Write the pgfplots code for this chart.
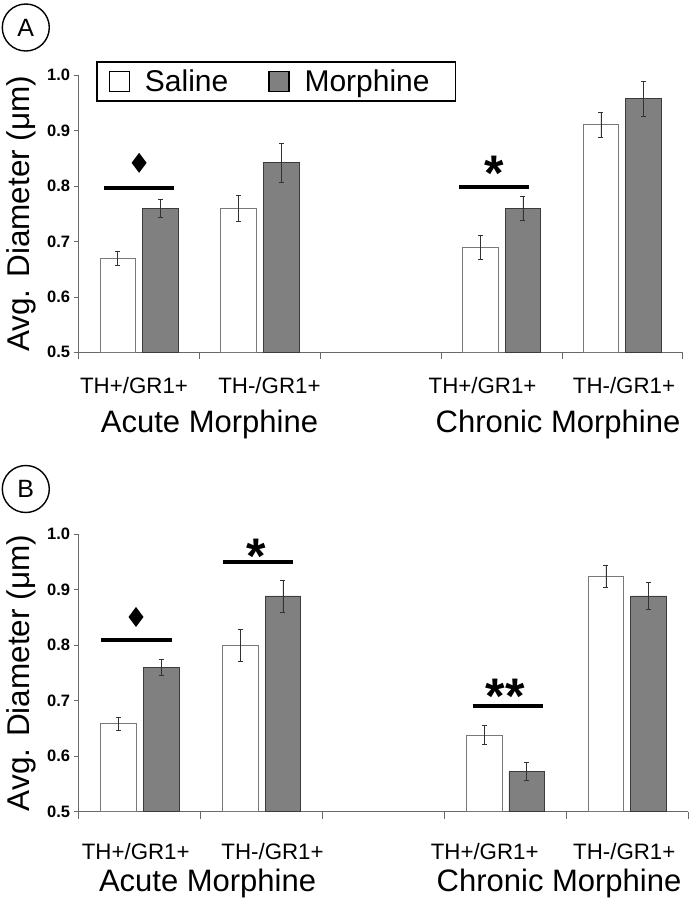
\documentclass[border=0pt]{standalone}
\usepackage{fontspec}
\setmainfont{Liberation Sans}
\usepackage{pgfplots}
\pgfplotsset{compat=1.18}
\definecolor{morph}{RGB}{128,128,128}
\definecolor{morphedge}{RGB}{60,60,60}
\definecolor{saledge}{RGB}{120,120,120}
\definecolor{axisgray}{RGB}{105,105,105}
\definecolor{errgray}{RGB}{50,50,50}
\pgfplotsset{
  panel/.style={
    scale only axis,
    xmin=-0.5, xmax=4.5, ymin=0.5, ymax=1.0,
    enlargelimits=false,
    axis x line*=bottom, axis y line*=left,
    axis line style={axisgray, line width=0.8pt},
    ybar=7pt, bar width=35.7pt,
    clip mode=individual,
    ytick={0.5,0.6,0.7,0.8,0.9,1.0},
    yticklabel={\pgfmathprintnumber[fixed,fixed zerofill,precision=1,assume math mode=true]{\tick}},
    yticklabel style={font=\bfseries\fontsize{16.5}{17}\selectfont},
    tick align=outside, major tick length=5pt, minor tick length=7pt,
    tick style={axisgray, line width=0.8pt},
    major x tick style={draw=none},
    minor xtick={-0.5,0.5,1.5,2.5,3.5,4.5},
    xticklabel style={font=\fontsize{22.3}{24}\selectfont, anchor=base},
    xticklabels={TH+/GR1+,TH-/GR1+,TH+/GR1+,TH-/GR1+},
    ylabel={Avg. Diameter (μm)},
    ylabel style={font=\fontsize{31.5}{34}\selectfont, anchor=base},
    error bars/y dir=both, error bars/y explicit,
    error bars/error bar style={errgray, line width=0.6pt},
    error bars/error mark options={rotate=90, mark size=2.5pt, errgray, line width=0.6pt},
  },
  sal/.style={fill=white, draw=saledge, line width=0.7pt},
  mor/.style={fill=morph, draw=morphedge, line width=0.7pt},
}
\newcommand{\sig}[2]{\draw[line width=4.3pt] (axis cs:#1-0.29,#2) -- (axis cs:#1+0.29,#2);}
\newcommand{\stars}[3]{\node[anchor=base, inner sep=0pt, yshift=-28pt, font=\bfseries\fontsize{50}{52}\selectfont] at (axis cs:#1,#2) {#3};}
\newcommand{\dia}[2]{\fill[shift={(axis cs:#1,#2)}] (0pt,10pt) -- (7.5pt,0pt) -- (0pt,-10pt) -- (-7.5pt,0pt) -- cycle;}
\begin{document}
\begin{tikzpicture}
\useasboundingbox (0,0) rectangle (690pt,-900pt);
% Panel labels
\node[draw, circle, line width=1.4pt, minimum size=47pt, inner sep=0pt, font=\fontsize{25}{28}\selectfont] at (25.8pt,-27.5pt) {A};
\node[draw, circle, line width=1.4pt, minimum size=47pt, inner sep=0pt, font=\fontsize{25}{28}\selectfont] at (25.8pt,-489pt) {B};
% ---------------- Panel A ----------------
\begin{axis}[panel, width=604pt, height=277pt, at={(78.7pt,-352.3pt)}, anchor=south west,
  xtick={-0.042,1.079,2.843,4.014},
  xticklabel style={yshift=-36pt},
  ylabel style={at={(axis description cs:-0.0815,0.5)}},
  legend style={at={(axis description cs:0.0286,1.0516)}, anchor=north west, draw=black, line width=1.6pt,
    font=\fontsize{30}{34}\selectfont, legend columns=2,
    /tikz/every odd column/.append style={column sep=13pt},
    /tikz/every even column/.append style={column sep=38pt},
    inner xsep=12pt, inner ysep=6pt},
  legend cell align=left,
  legend image code/.code={\draw[#1, line width=1.2pt, draw=black] (0pt,-10pt) rectangle (20pt,10pt);},
]
\addplot[sal] coordinates {(0,0.670) +- (0,0.013) (1,0.760) +- (0,0.023) (3,0.690) +- (0,0.022) (4,0.911) +- (0,0.023)};
\addplot[mor] coordinates {(0,0.760) +- (0,0.017) (1,0.842) +- (0,0.035) (3,0.760) +- (0,0.021) (4,0.958) +- (0,0.032)};
\legend{Saline, \mbox{Morphine\hspace*{12pt}}}
\sig{0}{0.797}
\dia{0}{0.842}
\sig{2.94}{0.799}
\stars{2.94}{0.842}{*}
\node[anchor=base, yshift=-79.7pt, font=\fontsize{31}{34}\selectfont] at (axis cs:0.583,0.5) {Acute Morphine};
\node[anchor=base, yshift=-79.7pt, font=\fontsize{31}{34}\selectfont] at (axis cs:3.468,0.5) {Chronic Morphine};
\end{axis}
% ---------------- Panel B ----------------
\begin{axis}[panel, width=609.6pt, height=277.4pt, at={(78.7pt,-811.7pt)}, anchor=south west,
  xtick={-0.032,1.09,2.83,3.975},
  xticklabel style={yshift=-43pt},
  ylabel style={at={(axis description cs:-0.0807,0.5)}},
]
\addplot[sal] coordinates {(0,0.659) +- (0,0.012) (1,0.800) +- (0,0.028) (3,0.638) +- (0,0.017) (4,0.925) +- (0,0.020)};
\addplot[mor] coordinates {(0,0.760) +- (0,0.014) (1,0.889) +- (0,0.029) (3,0.573) +- (0,0.016) (4,0.889) +- (0,0.024)};
\sig{-0.024}{0.809}
\dia{-0.03}{0.851}
\sig{0.97}{0.950}
\stars{0.96}{0.980}{*}
\sig{3.02}{0.690}
\stars{3.0}{0.728}{**}
\node[anchor=base, yshift=-80pt, font=\fontsize{31}{34}\selectfont] at (axis cs:0.557,0.5) {Acute Morphine};
\node[anchor=base, yshift=-80pt, font=\fontsize{31}{34}\selectfont] at (axis cs:3.44,0.5) {Chronic Morphine};
\end{axis}
\end{tikzpicture}
\end{document}
